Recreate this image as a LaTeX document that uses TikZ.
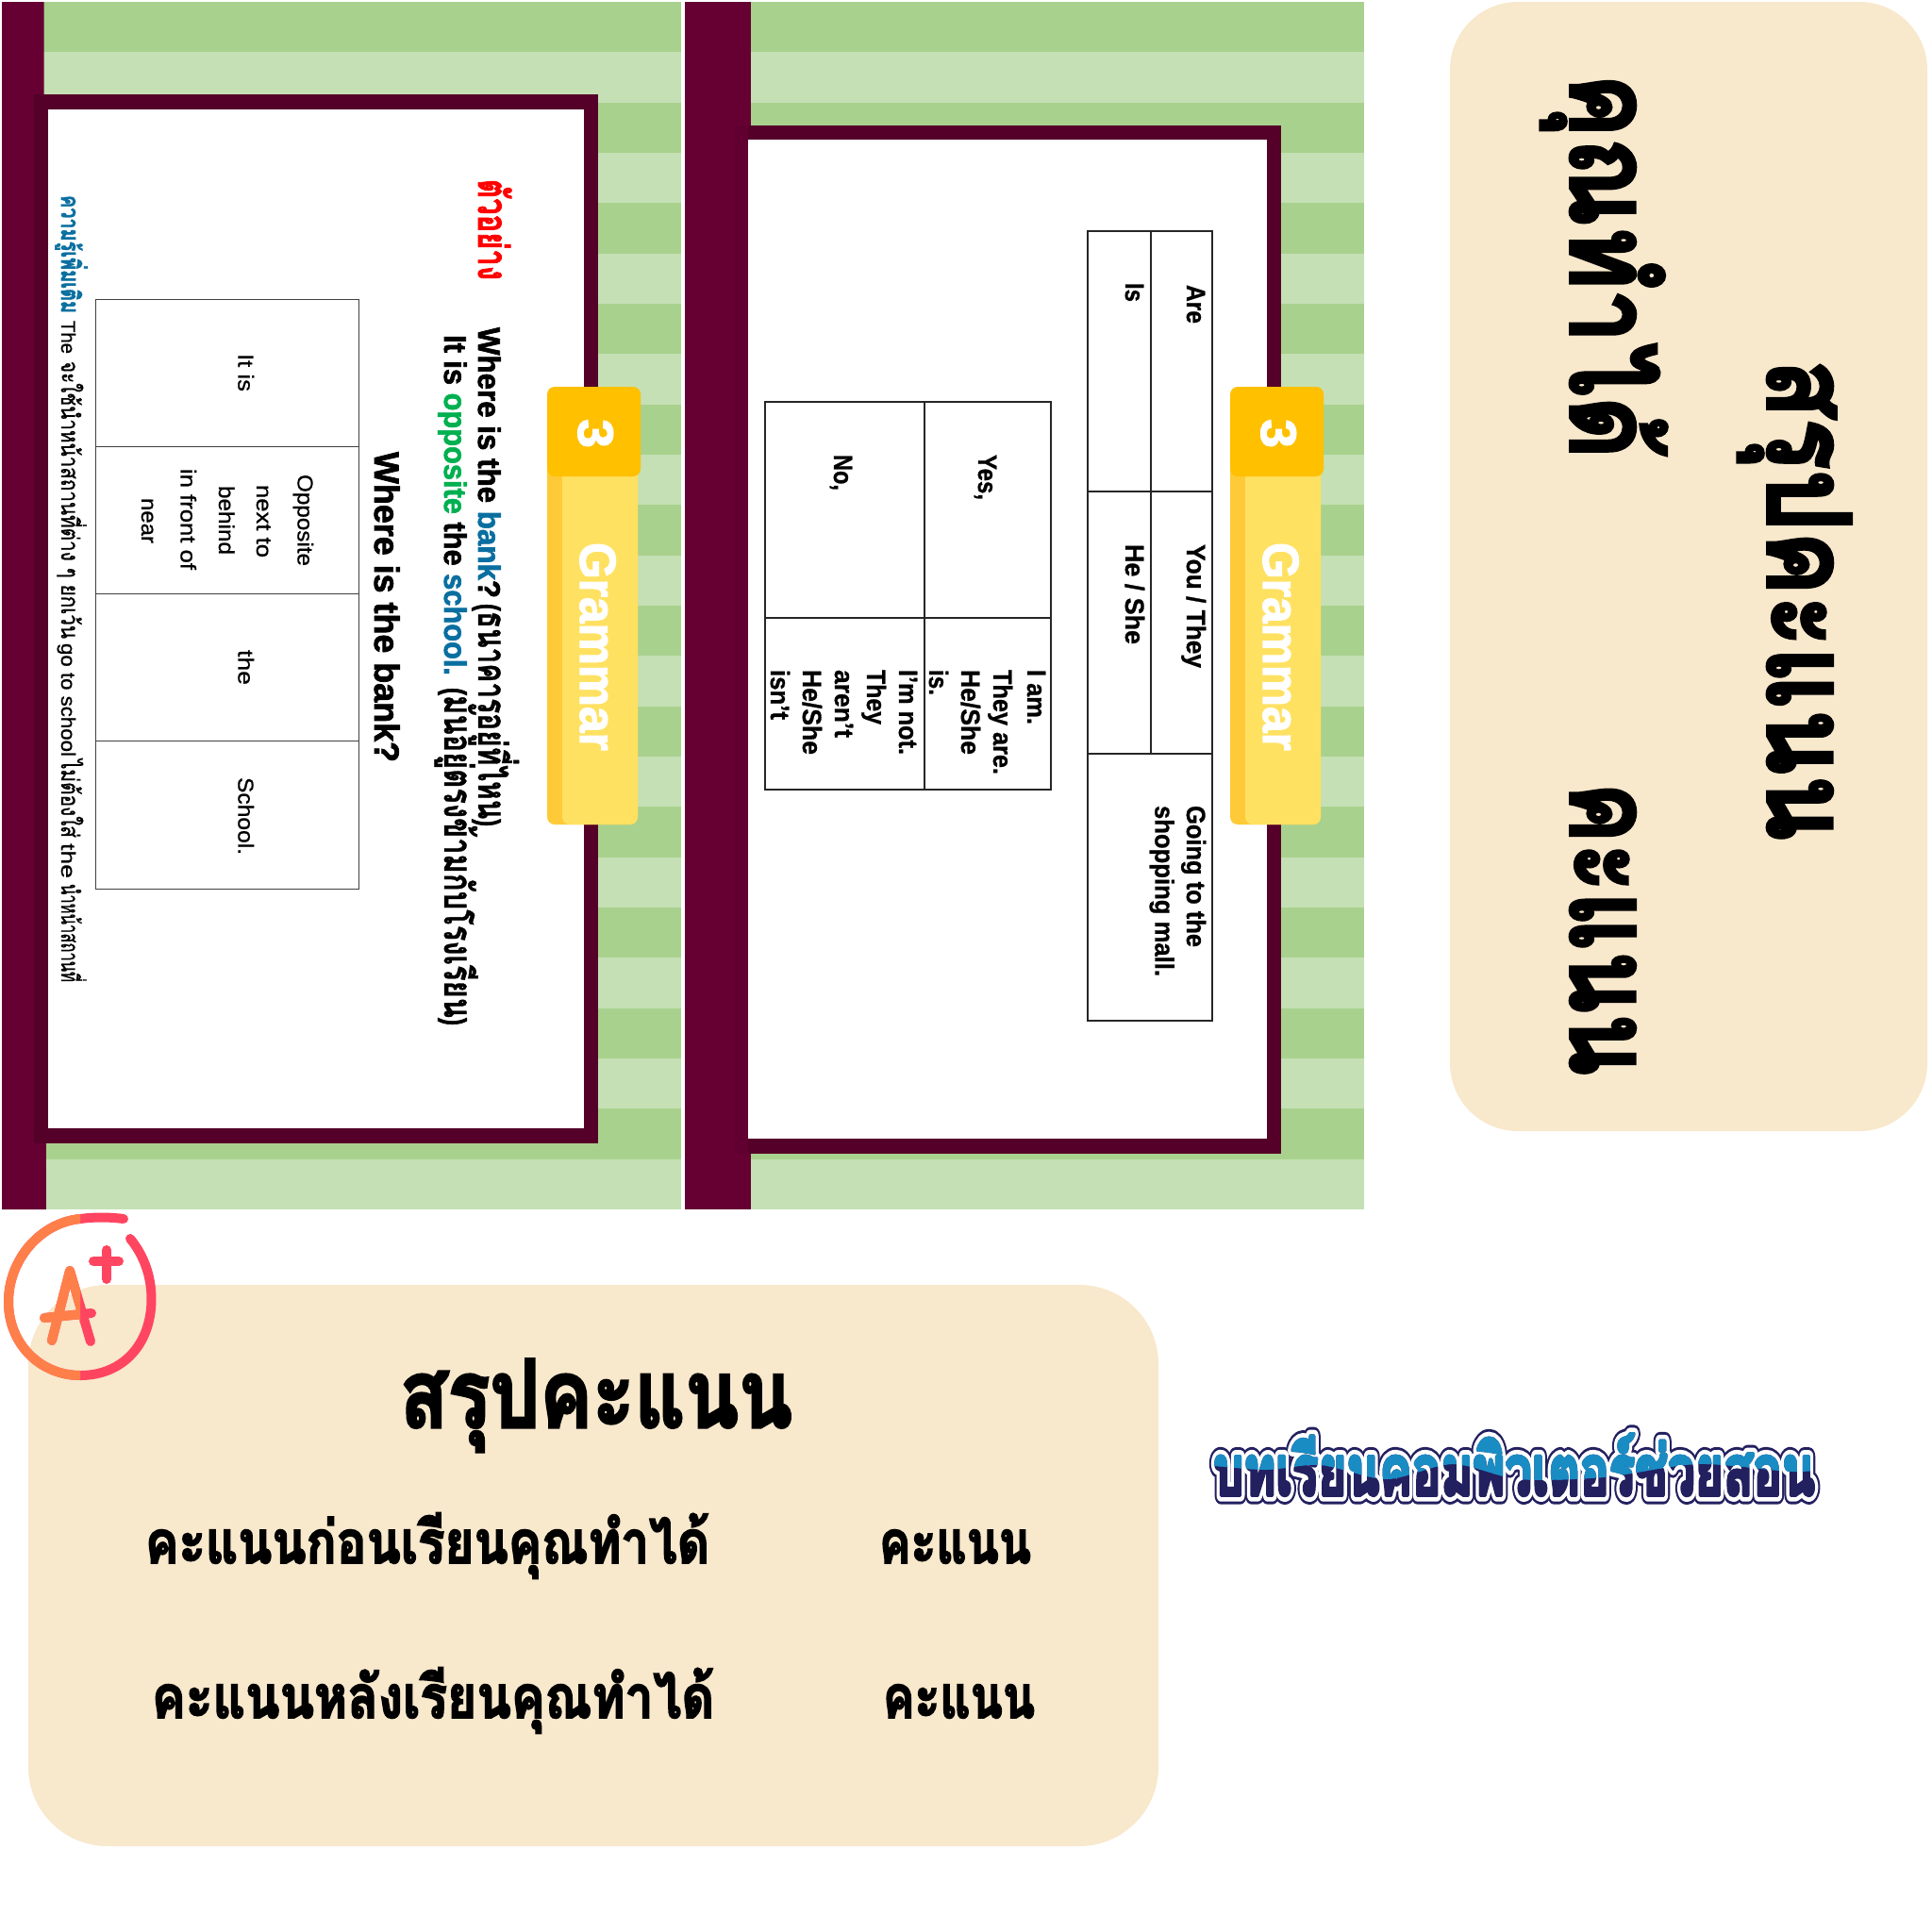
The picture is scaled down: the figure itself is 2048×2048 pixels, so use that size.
\documentclass[tikz,border=0pt]{standalone}
\usepackage{fontspec}
\usepackage{graphicx}
\setmainfont{Liberation Sans}
\newfontfamily\thaiX[Script=Thai,FakeBold=3]{Loma Bold}
\newfontfamily\thaiH[Script=Thai,FakeBold=2]{Loma Bold}
\newfontfamily\thaim[Script=Thai,FakeBold=1]{Loma Bold}
\newfontfamily\thair[Script=Thai,FakeBold=1]{Loma}
\newfontfamily\medf[FakeBold=0.8]{Liberation Sans}
\newfontfamily\bff[FakeBold=1]{Liberation Sans Bold}
\newfontfamily\hvf[FakeBold=2]{Liberation Sans Bold}
\newfontfamily\logoA[Script=Thai,FakeBold=26]{Loma Bold}
\newfontfamily\logoB[Script=Thai,FakeBold=18]{Loma Bold}
\newfontfamily\logoC[Script=Thai,FakeBold=5]{Loma Bold}
\definecolor{strip}{HTML}{660033}
\definecolor{frame}{HTML}{550029}
\definecolor{gd}{HTML}{A9D18E}
\definecolor{gl}{HTML}{C5E0B4}
\definecolor{beige}{HTML}{F8E8CC}
\definecolor{tabtop}{HTML}{FFC000}
\definecolor{tabdark}{HTML}{FFCA38}
\definecolor{tablight}{HTML}{FFE162}
\definecolor{bl}{HTML}{0A6FA0}
\definecolor{grn}{HTML}{00B050}
\definecolor{orng}{HTML}{FF7F4A}
\definecolor{pnk}{HTML}{FF4560}
\definecolor{lognavy}{HTML}{232060}
\definecolor{logblue}{HTML}{1A8CC4}
\newcommand\tw[3]{\resizebox{#1pt}{\height}{\fontsize{#2}{#2}\selectfont #3}}
\newcommand\rj{\special{pdf:code 1 j 1 J}}
\tikzset{
  rtx/.style={anchor=base west,inner sep=0pt,outer sep=0pt,rotate=-90},
  htx/.style={anchor=base west,inner sep=0pt,outer sep=0pt},
  tline/.style={draw=black!75,line width=0.9pt},
  tlinek/.style={draw=black!85,line width=1.4pt},
  pen/.style={line width=10pt,line cap=round,line join=round}
}
\begin{document}
\begin{tikzpicture}[x=1pt,y=-1pt]
\useasboundingbox (0,0) rectangle (2048,2048);
% --- stripes
\foreach \i in {0,...,23}{
  \pgfmathsetmacro\ya{2+\i*53.33}
  \pgfmathsetmacro\yb{2+(\i+1)*53.33}
  \pgfmathparse{int(mod(\i,2))}
  \ifnum\pgfmathresult=0 \def\cc{gd}\else\def\cc{gl}\fi
  \fill[\cc] (46,\ya) rectangle (722,\yb);
  \fill[\cc] (796,\ya) rectangle (1446,\yb);
}
% --- left slide
\fill[strip] (2,2) -- (46.5,2) -- (49,1282) -- (2,1282) -- cycle;
\fill[frame] (36,100) rectangle (634,1212);
\fill[white] (51,116) rectangle (619,1196);
% --- right slide
\fill[strip] (726,2) rectangle (796,1282);
\fill[frame] (778,133) rectangle (1358,1223);
\fill[strip!70!frame] (778,133) rectangle (793,1223);
\fill[white] (793,148) rectangle (1343,1207);
% --- tabs
\foreach \dx/\n in {0/a,724/b}{
  \begin{scope}[xshift=\dx pt]
  \fill[tabdark,rounded corners=8pt] (580,480) rectangle (676,874);
  \fill[tablight,rounded corners=8pt] (596,480) rectangle (676,874);
  \fill[tabtop,rounded corners=8pt] (580,410) rectangle (679,505);
  \node[rtx,text=white] (three\n) at (613,444) {\tw{31}{53}{\hvf 3}};
  \node[rtx,text=white] (gram\n) at (615,575) {\tw{221}{54}{\hvf Grammar}};
  \end{scope}
}
% --- left slide text
\node[rtx,text=red] (ex) at (507,190) {\tw{107}{44}{\thaiH ตัวอย่าง}};
\node[rtx] (l1a) at (507,347) {\tw{287}{33}{\hvf Where is the \textcolor{bl}{bank}?}};
\node[rtx] (l1b) at (507,640) {\tw{236}{33}{\hvf ({\thaim\fontsize{42}{42}\selectfont ธนาคารอยู่ที่ไหน})}};
\node[rtx] (l2a) at (471,355) {\tw{361}{33}{\hvf It is \textcolor{grn}{opposite} the \textcolor{bl}{school.}}};
\node[rtx] (l2b) at (471,729) {\tw{358}{33}{\hvf ({\thaim\fontsize{42}{42}\selectfont มันอยู่ตรงข้ามกับโรงเรียน})}};
\node[rtx] (l3) at (397,479) {\tw{329}{37}{\hvf Where is the bank?}};
% left table
\draw[tline] (101,317) rectangle (380,942);
\draw[tline] (101,473) -- (380,473) (101,629) -- (380,629) (101,785) -- (380,785);
\node[rtx] (c1) at (252.5,375) {\tw{40}{23}{\medf It is}};
\node[rtx] (c2) at (315.5,503) {\tw{97}{23}{\medf Opposite}};
\node[rtx] (c3) at (272,514) {\tw{77}{23}{\medf next to}};
\node[rtx] (c4) at (232,515) {\tw{73}{23}{\medf behind}};
\node[rtx] (c5) at (191.5,497) {\tw{107}{23}{\medf in front of}};
\node[rtx] (c6) at (150,528) {\tw{48}{23}{\medf near}};
\node[rtx] (c7) at (252.5,689) {\tw{37}{23}{\medf the}};
\node[rtx] (c8) at (252.5,824) {\tw{82}{23}{\medf School.}};
% footnote
\node[rtx,text=bl] (fn1) at (65,207) {\tw{125}{27}{\thaiH ความรู้เพิ่มเติม}};
\node[rtx] (fn2) at (65,340) {\tw{35}{21}{\medf The}};
\node[rtx] (fn3) at (65,383) {\tw{294}{26}{\thair จะใช้นำหน้าสถานที่ต่าง ๆ ยกเว้น}};
\node[rtx] (fn4) at (65,682) {\tw{120}{21}{\medf go to school}};
\node[rtx] (fn5) at (65,805) {\tw{83}{26}{\thair ไม่ต้องใส่}};
\node[rtx] (fn6) at (65,894) {\tw{37}{21}{\medf the}};
\node[rtx] (fn7) at (65,937) {\tw{104}{26}{\thair นำหน้าสถานที่}};
% --- right slide tables
\draw[tlinek] (1153,245) rectangle (1285,1082);
\draw[tlinek] (1220,245) -- (1220,799) (1153,521) -- (1285,521) (1153,799) -- (1285,799);
\node[rtx] (r1) at (1258,302) {\tw{41}{28}{\bff Are}};
\node[rtx] (r2) at (1193,300) {\tw{20}{28}{\bff Is}};
\node[rtx] (r3) at (1258,577) {\tw{131}{28}{\bff You / They}};
\node[rtx] (r4) at (1193,577) {\tw{106}{28}{\bff He / She}};
\node[rtx] (r5) at (1258,854) {\tw{150}{28}{\bff Going to the}};
\node[rtx] (r6) at (1224.5,854) {\tw{181}{28}{\bff shopping mall.}};
\draw[tlinek] (811,426) rectangle (1114,837);
\draw[tlinek] (980,426) -- (980,837) (811,655) -- (1114,655);
\node[rtx] (s1) at (1037,482) {\tw{48}{28}{\bff Yes,}};
\node[rtx] (s2) at (884,482) {\tw{38}{28}{\bff No,}};
\node[rtx] (s3) at (1089,710) {\tw{58}{28}{\bff I am.}};
\node[rtx] (s4) at (1053,710) {\tw{111}{28}{\bff They are.}};
\node[rtx] (s5) at (1019,710) {\tw{90}{28}{\bff He/She}};
\node[rtx] (s6) at (985,710) {\tw{27}{28}{\bff is.}};
\node[rtx] (s7) at (953,710) {\tw{90}{28}{\bff I’m not.}};
\node[rtx] (s8) at (919,710) {\tw{58}{28}{\bff They}};
\node[rtx] (s9) at (885,710) {\tw{72}{28}{\bff aren’t}};
\node[rtx] (s10) at (851,710) {\tw{90}{28}{\bff He/She}};
\node[rtx] (s11) at (817,710) {\tw{53}{28}{\bff isn’t}};
% --- right panel
\fill[beige,rounded corners=72pt] (1537,2) rectangle (2043,1199);
\node[rtx] (p1) at (1874,381) {\tw{510}{122}{\thaiX สรุปคะแนน}};
\node[rtx] (p2) at (1665,78) {\tw{408}{122}{\thaiX คุณทำได้}};
\node[rtx] (p3) at (1665,829) {\tw{311}{122}{\thaiX คะแนน}};
% --- bottom panel
\fill[beige,rounded corners=84pt] (30,1362) rectangle (1228,1957);
\node[htx] (b1) at (424,1513) {\tw{416}{100}{\thaiX สรุปคะแนน}};
\node[htx] (b2) at (154,1657) {\tw{598}{63}{\thaiX คะแนนก่อนเรียนคุณทำได้}};
\node[htx] (b3) at (932,1657) {\tw{161}{63}{\thaiX คะแนน}};
\node[htx] (b4) at (161,1821) {\tw{596}{63}{\thaiX คะแนนหลังเรียนคุณทำได้}};
\node[htx] (b5) at (936,1821) {\tw{161}{63}{\thaiX คะแนน}};
% --- A+ icon
\def\ring{(131,1292) .. controls (115,1290) and (100,1290) .. (85,1292)
 .. controls (43,1296) and (9,1335) .. (9,1380)
 .. controls (9,1425) and (43,1458) .. (85,1458)
 .. controls (130,1458) and (160.5,1425) .. (160.5,1377)
 .. controls (160.5,1352) and (152,1330) .. (138,1313)}
\def\letA{(55,1421) -- (74,1347) -- (96,1422) (47,1397) -- (97,1392)}
\draw[pen,pnk] \ring;
\draw[pen,pnk] \letA;
\draw[pen,pnk] (113,1325) -- (113,1356) (99,1337) -- (126,1337);
\begin{scope}
\clip (-10,1270) rectangle (85,1480);
\draw[pen,orng] \ring;
\draw[pen,orng] \letA;
\end{scope}
% --- logo
\def\logotxt{บทเรียนคอมพิวเตอร์ช่วยสอน}
\begin{scope}[line join=round,line cap=round]
\node[htx,text=lognavy] (la) at (1286,1585) {\rj\tw{638}{74}{\logoA \logotxt}};
\node[htx,text=white] (lb) at (1286,1585) {\rj\tw{638}{74}{\logoB \logotxt}};
\node[htx,text=lognavy] (lc) at (1286,1585) {\rj\tw{638}{74}{\logoC \logotxt}};
\end{scope}
\begin{scope}[line join=round,line cap=round]
\clip plot[smooth] coordinates {(1270,1552) (1340,1558) (1400,1553) (1470,1568) (1540,1552) (1610,1568) (1700,1566) (1800,1552) (1900,1560) (1945,1556)} -- (1945,1500) -- (1270,1500) -- cycle;
\node[htx,text=logblue] (ld) at (1286,1585) {\rj\tw{638}{74}{\logoC \logotxt}};
\end{scope}
\end{tikzpicture}
\end{document}
